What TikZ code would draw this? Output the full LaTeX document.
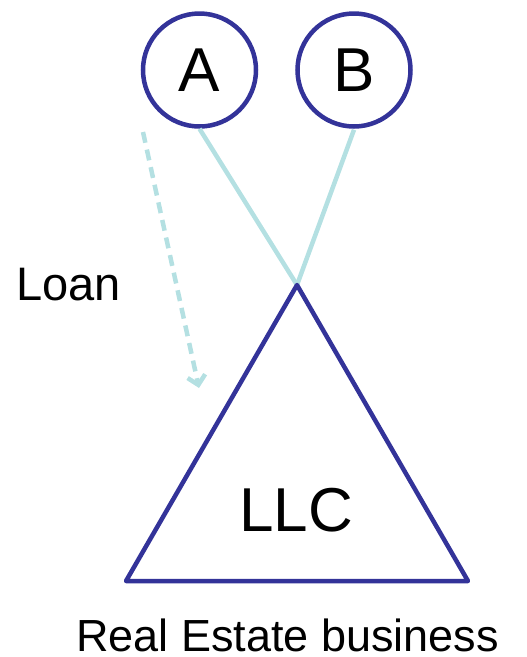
\documentclass[tikz,border=0pt]{standalone}
\usepackage{fontspec}
\setmainfont{Liberation Sans}
\usetikzlibrary{arrows.meta}
\definecolor{dblue}{HTML}{333399}
\definecolor{lblue}{HTML}{B4E0E2}
\begin{document}
\begin{tikzpicture}[x=1pt,y=-1pt,
  ent/.style={circle,draw=dblue,line width=4.5pt,minimum size=113pt,inner sep=0pt,font=\fontsize{62}{62}\selectfont},
  tie/.style={draw=lblue,line width=4.5pt},
  lbl/.style={inner sep=0pt,anchor=base}]
\useasboundingbox (0,0) rectangle (527,657);
\node[ent] (A) at (199.5,70) {A};
\node[ent] (B) at (354,70) {B};
\coordinate (apex) at (297,285);
\coordinate (bl) at (126,581);
\coordinate (br) at (468,581);
\draw[tie] (A.south) -- (apex);
\draw[tie] (B.south) ++(0,1) -- (apex);
\draw[draw=dblue,line width=4.5pt,line join=round] (apex) -- (bl) -- (br) -- cycle;
\node[lbl,font=\fontsize{62}{62}\selectfont] (llc) at (296,531) {LLC};
\coordinate (ls) at (143,132);
\coordinate (le) at (199,388);
\draw[draw=lblue,line width=4.5pt,dash pattern=on 11pt off 7pt,-{Straight Barb[length=9pt,width=18pt,line width=4.5pt]}] (ls) -- (le);
\node[lbl,font=\fontsize{47}{47}\selectfont] (loan) at (68.5,300) {Loan};
\node[lbl,font=\fontsize{45}{45}\selectfont] (reb) at (287.5,651) {Real Estate business};
\end{tikzpicture}
\end{document}
